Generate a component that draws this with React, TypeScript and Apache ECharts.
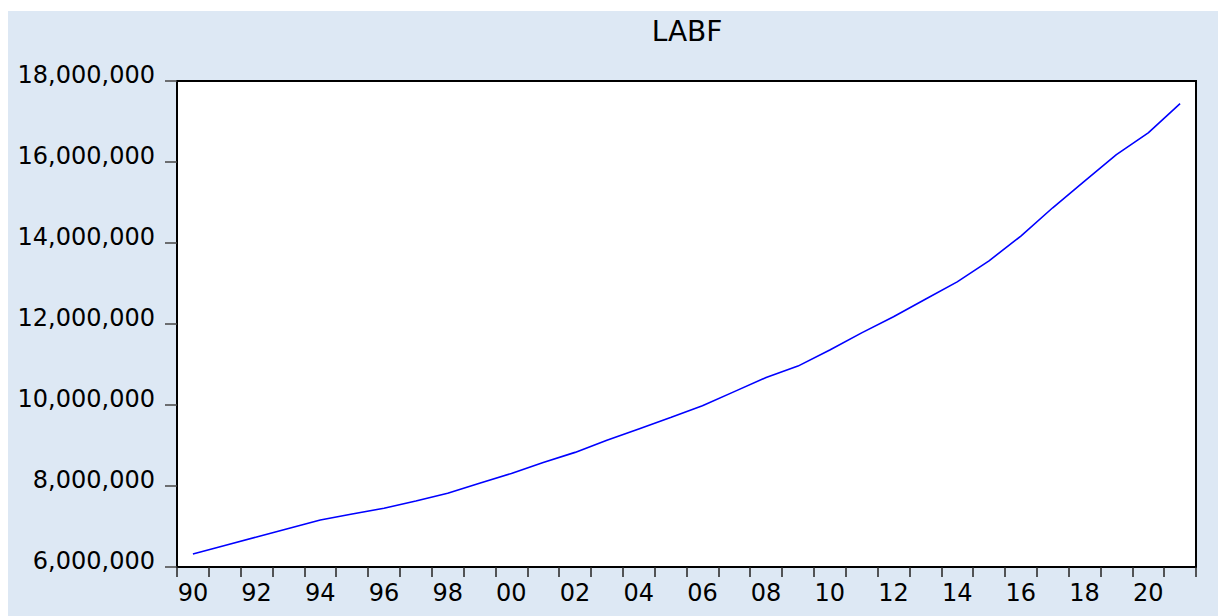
import React, { useEffect, useRef } from "react";
import * as echarts from "echarts";

const years: string[] = [
  "1990", "1991", "1992", "1993", "1994", "1995", "1996", "1997",
  "1998", "1999", "2000", "2001", "2002", "2003", "2004", "2005",
  "2006", "2007", "2008", "2009", "2010", "2011", "2012", "2013",
  "2014", "2015", "2016", "2017", "2018", "2019", "2020", "2021",
];

const labf: number[] = [
  6320000, 6530000, 6740000, 6950000, 7160000, 7310000, 7450000, 7630000,
  7820000, 8070000, 8310000, 8580000, 8830000, 9130000, 9410000, 9690000,
  9980000, 10330000, 10680000, 10960000, 11360000, 11780000, 12180000, 12610000,
  13040000, 13560000, 14170000, 14870000, 15530000, 16180000, 16720000, 17440000,
];

const seriesName = "LABF";
const yMin = 6000000;
const yMax = 18000000;
const yStep = 2000000;

export default function App() {
  const ref = useRef<HTMLDivElement>(null);
  useEffect(() => {
    document.documentElement.style.overflow = "hidden";
    const chart = echarts.init(ref.current!, undefined, { renderer: "svg" });
    chart.setOption({
      animation: false,
      backgroundColor: "#dde8f4",
      title: {
        text: seriesName,
        left: 674,
        top: 1,
        textAlign: "center",
        textStyle: {
          fontFamily: "DejaVu Sans",
          fontSize: 28,
          fontWeight: "normal",
          color: "#000",
        },
      },
      grid: {
        left: 169,
        right: 22,
        top: 70,
        bottom: 49,
        show: true,
        backgroundColor: "#ffffff",
        borderColor: "#000",
        borderWidth: 2,
        containLabel: false,
      },
      xAxis: {
        type: "category",
        data: years,
        boundaryGap: true,
        axisLine: { show: true, lineStyle: { color: "#000", width: 2 } },
        axisTick: {
          show: true,
          inside: false,
          length: 10,
          interval: 0,
          alignWithLabel: false,
          lineStyle: { color: "#222", width: 1.5 },
        },
        axisLabel: {
          interval: 1,
          margin: 14,
          color: "#000",
          fontFamily: "DejaVu Sans",
          fontSize: 24,
          formatter: (v: string) => v.slice(2),
        },
        splitLine: { show: false },
      },
      yAxis: {
        type: "value",
        min: yMin,
        max: yMax,
        interval: yStep,
        axisLine: { show: true, lineStyle: { color: "#000", width: 2 } },
        axisTick: {
          show: true,
          inside: false,
          length: 12,
          lineStyle: { color: "#444", width: 1.5 },
        },
        axisLabel: {
          margin: 22,
          color: "#000",
          fontFamily: "DejaVu Sans",
          fontSize: 24,
          verticalAlign: "bottom",
          lineHeight: 12,
          formatter: (v: number) => v.toLocaleString("en-US"),
        },
        splitLine: { show: false },
      },
      series: [
        {
          name: seriesName,
          type: "line",
          data: labf,
          showSymbol: false,
          symbol: "none",
          lineStyle: { color: "#0000ff", width: 1.6 },
        },
      ],
    });
    return () => chart.dispose();
  }, []);
  return (
    <div
      ref={ref}
      style={{ position: "absolute", left: 8, top: 11, width: 1210, height: 605 }}
    />
  );
}
